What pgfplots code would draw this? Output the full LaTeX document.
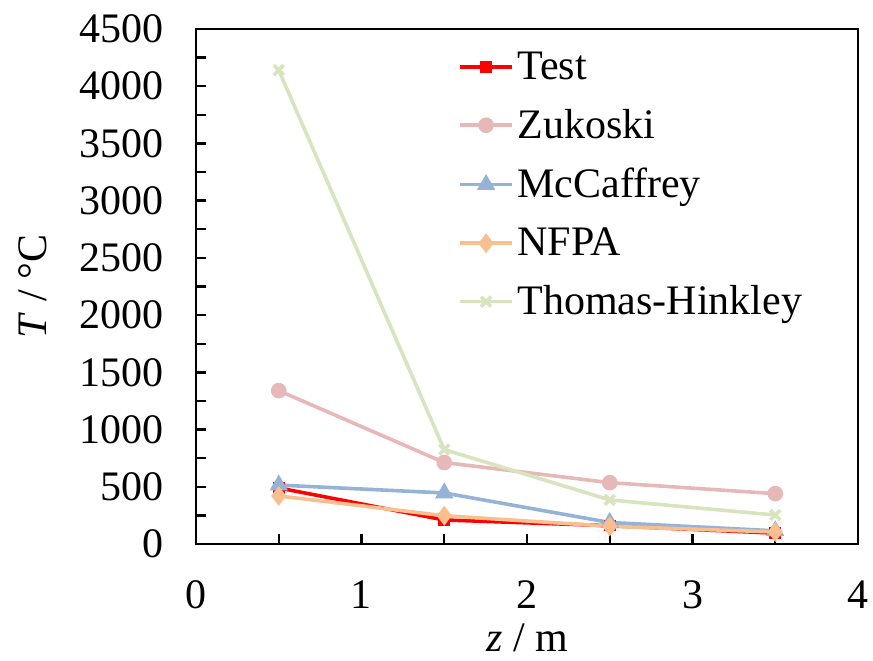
\documentclass[border=0pt]{standalone}
\usepackage{fontspec}
\setmainfont{Liberation Serif}
\usepackage{pgfplots}
\pgfplotsset{compat=1.18}
\definecolor{cTest}{RGB}{255,0,0}
\definecolor{cZuk}{RGB}{230,184,183}
\definecolor{cMcC}{RGB}{149,179,215}
\definecolor{cNFPA}{RGB}{250,191,143}
\definecolor{cTH}{RGB}{215,228,189}
\begin{document}
\begin{tikzpicture}
\begin{axis}[
  scale only axis,
  width=331pt, height=257.5pt,
  xmin=0, xmax=4, ymin=0, ymax=4500,
  xtick={0,1,2,3,4},
  xticklabels={0,1,2,3,4},
  minor xtick={0.5,1.5,2.5,3.5},
  ytick={0,500,...,4500},
  yticklabels={0,500,1000,1500,2000,2500,3000,3500,4000,4500},
  minor ytick={250,750,...,4250},
  tick align=inside,
  major tick length=5pt, minor tick length=5pt,
  tick style={black, line width=1.2pt},
  xtick pos=bottom, ytick pos=left,
  axis line style={black, line width=1.3pt},
  font=\fontsize{21}{25}\selectfont,
  yticklabel style={xshift=-12pt},
  xticklabel style={yshift=-14pt},
  xlabel={\textit{z} / m},
  ylabel={\textit{T} / °C},
  ylabel style={yshift=8.5pt},
  legend style={draw=none, fill=none, at={(0.385,0.975)}, anchor=north west,
    font=\fontsize{21}{25}\selectfont, row sep=9.5pt,
    legend cell align=left},
  legend image code/.code={
    \draw[#1, mark repeat=2, mark phase=2] plot coordinates {(0cm,0cm) (0.45cm,0cm) (0.9cm,0cm)};},
  line width=1.8pt,
]
\addplot[cTest, mark=square*, mark size=2pt] coordinates {
  (0.5,490) (1.5,210) (2.5,160) (3.5,95)};
\addlegendentry{Test}
\addplot[cZuk, mark=*, mark size=3pt] coordinates {
  (0.5,1340) (1.5,712) (2.5,536) (3.5,440)};
\addlegendentry{Zukoski}
\addplot[cMcC, mark=triangle*, mark size=3.5pt] coordinates {
  (0.5,515) (1.5,446) (2.5,188) (3.5,115)};
\addlegendentry{McCaffrey}
\addplot[cNFPA, mark=diamond*, mark size=3.5pt] coordinates {
  (0.5,420) (1.5,247) (2.5,155) (3.5,105)};
\addlegendentry{NFPA}
\addplot[cTH, mark=x, mark size=3.5pt] coordinates {
  (0.5,4140) (1.5,825) (2.5,385) (3.5,253)};
\addlegendentry{Thomas-Hinkley}
\end{axis}
\pgfresetboundingbox
\useasboundingbox ([shift={(-98pt,-58pt)}]current axis.south west) rectangle ([shift={(7.5pt,14.5pt)}]current axis.north east);
\end{tikzpicture}
\end{document}
